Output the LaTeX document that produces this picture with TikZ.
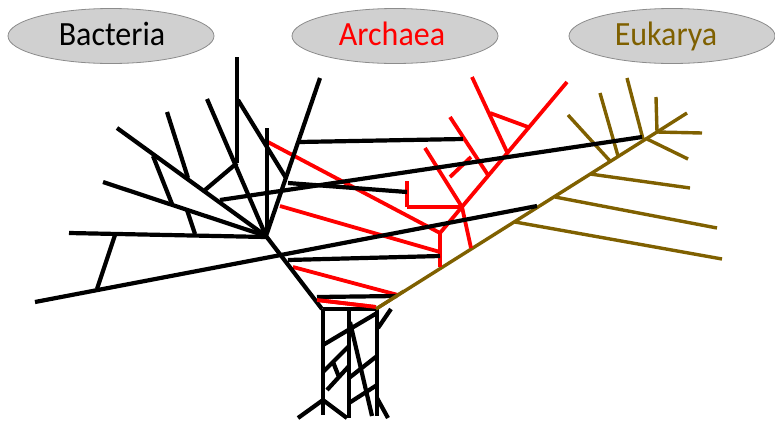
\documentclass[tikz,border=0pt]{standalone}
\usepackage{fontspec}
\setmainfont{Carlito}
\usetikzlibrary{shapes.geometric}
\definecolor{olivebr}{HTML}{7F6000}
\definecolor{bred}{HTML}{FF0000}
\definecolor{blobfill}{HTML}{D0D0D0}
\definecolor{blobline}{HTML}{8C8C8C}
\tikzset{
  blob/.style={ellipse, draw=blobline, line width=0.8pt, fill=blobfill, minimum width=206pt, minimum height=55pt, inner sep=0pt},
  lbl/.style={inner sep=0pt, text height=21pt, text depth=0pt, font=\fontsize{32}{32}\selectfont, yscale=1.06},
  bac/.style={draw=black, line width=4.2pt},
  arc/.style={draw=bred, line width=3.8pt},
  euk/.style={draw=olivebr, line width=3.4pt}
}
\begin{document}
\begin{tikzpicture}[x=1pt,y=-1pt]
\useasboundingbox (0,0) rectangle (775,421);
% labels
\node[blob] (bactE) at (111,36) {};
\node[blob] (archE) at (395,36) {};
\node[blob] (eukE) at (672,36) {};
\node[lbl] (bact) at (112,34) {Bacteria};
\node[lbl, text=bred] (arch) at (392,34) {Archaea};
\node[lbl, text=olivebr] (eukl) at (666,34) {Eukarya};

% ---------- coordinates ----------
\coordinate (H) at (266,236);
% bacteria
\coordinate (b1a) at (237,57);  \coordinate (b1b) at (237,163);
\coordinate (b2b) at (205,190);
\coordinate (b3a) at (238,100); \coordinate (b3b) at (286,178);
\coordinate (b4a) at (320,78);
\coordinate (b5a) at (267,128); \coordinate (b5b) at (267,234);
\coordinate (b6a) at (207,99);
\coordinate (b7a) at (117,128);
\coordinate (b8a) at (167,112); \coordinate (b8b) at (188,178);
\coordinate (b9a) at (153,156); \coordinate (b9b) at (172,204);
\coordinate (b10a) at (103,182);
\coordinate (b11a) at (187,210); \coordinate (b11b) at (195,234);
\coordinate (b12a) at (69,233); \coordinate (b12b) at (266,237);
\coordinate (b13a) at (115,235); \coordinate (b13b) at (97,289);
\coordinate (b14a) at (35,302); \coordinate (b14b) at (537,206);
\coordinate (b15a) at (220,200); \coordinate (b15b) at (642,137);
\coordinate (b16a) at (299,142); \coordinate (b16b) at (463,139);
\coordinate (b17a) at (288,183); \coordinate (b17b) at (407,192);
\coordinate (b18a) at (288,260); \coordinate (b18b) at (440,256);
\coordinate (b19a) at (317,297); \coordinate (b19b) at (397,296);
\coordinate (b20b) at (322,309);
% trunk
\coordinate (Lt) at (323,309); \coordinate (Lb) at (323,415);
\coordinate (Mt) at (349,310); \coordinate (Mb) at (349,418);
\coordinate (Rt) at (377,309); \coordinate (Rb) at (377,416);
\coordinate (t1a) at (323,345); \coordinate (t1b) at (377,313);
\coordinate (t2a) at (323,372); \coordinate (t2b) at (349,346);
\coordinate (t3a) at (350,322); \coordinate (t3b) at (372,416);
\coordinate (t4a) at (333,362); \coordinate (t4b) at (339,377);
\coordinate (t5a) at (327,390); \coordinate (t5b) at (349,366);
\coordinate (t6a) at (349,378); \coordinate (t6b) at (377,356);
\coordinate (t7a) at (323,400); \coordinate (t7b) at (347,418);
\coordinate (t8a) at (349,403); \coordinate (t8b) at (377,385);
\coordinate (t9a) at (298,418);
\coordinate (t10a) at (377,398); \coordinate (t10b) at (388,418);
\coordinate (t11a) at (378,328); \coordinate (t11b) at (391,309);
% archaea
\coordinate (r1a) at (266,141); \coordinate (Y) at (440,233);
\coordinate (r2a) at (280,206); \coordinate (r2b) at (440,252);
\coordinate (r3a) at (293,267); \coordinate (r3b) at (398,295);
\coordinate (r4a) at (317,300); \coordinate (r4b) at (376,307);
\coordinate (r5a) at (567,82);
\coordinate (r6b) at (440,267);
\coordinate (r7a) at (407,181); \coordinate (r7b) at (407,207);
\coordinate (X) at (462,207);
\coordinate (r9a) at (425,148);
\coordinate (r10b) at (471,248);
\coordinate (r11a) at (450,177); \coordinate (r11b) at (471,157);
\coordinate (r12a) at (450,117); \coordinate (r12b) at (488,175);
\coordinate (r13a) at (472,77); \coordinate (r13b) at (507,152);
\coordinate (r14a) at (490,113); \coordinate (r14b) at (528,127);
% eukarya
\coordinate (o1a) at (376,309); \coordinate (E) at (657,132);
\coordinate (o1m) at (404,291);
\coordinate (o2b) at (687,113);
\coordinate (o3b) at (702,133);
\coordinate (o4a) at (647,139); \coordinate (o4b) at (688,159);
\coordinate (o5a) at (656,97);
\coordinate (o6a) at (627,78); \coordinate (o6b) at (643,139);
\coordinate (o7a) at (600,93); \coordinate (o7b) at (618,156);
\coordinate (o8a) at (568,115); \coordinate (o8b) at (610,161);
\coordinate (o9a) at (590,174); \coordinate (o9b) at (690,188);
\coordinate (o10a) at (555,197); \coordinate (o10b) at (717,228);
\coordinate (o11a) at (515,222); \coordinate (o11b) at (722,259);

% ---------- eukarya ----------
\draw[euk] (o1a) -- (E);
\draw[euk] (E) -- (o2b);
\draw[euk] (E) -- (o3b);
\draw[euk] (o4a) -- (o4b);
\draw[euk] (o5a) -- (E);
\draw[euk] (o6a) -- (o6b);
\draw[euk] (o7a) -- (o7b);
\draw[euk] (o8a) -- (o8b);
\draw[euk] (o9a) -- (o9b);
\draw[euk] (o10a) -- (o10b);
\draw[euk] (o11a) -- (o11b);

% ---------- archaea ----------
\draw[arc] (r1a) -- (Y);
\draw[arc] (r5a) -- (Y);
\draw[arc] (Y) -- (r6b);
\draw[arc] (r2a) -- (r2b);
\draw[arc] (r3a) -- (r3b);
\draw[arc] (r4a) -- (r4b);
\draw[arc] (r7a) -- (r7b);
\draw[arc] (r7b) -- (X);
\draw[arc] (r9a) -- (X);
\draw[arc] (X) -- (r10b);
\draw[arc] (r11a) -- (r11b);
\draw[arc] (r12a) -- (r12b);
\draw[arc] (r13a) -- (r13b);
\draw[arc] (r14a) -- (r14b);

% ---------- bacteria ----------
\draw[bac] (b1a) -- (b1b);
\draw[bac] (b1b) -- (b2b);
\draw[bac] (b3a) -- (b3b);
\draw[bac] (b4a) -- (H);
\draw[bac] (b5a) -- (b5b);
\draw[bac] (b6a) -- (H);
\draw[bac] (b7a) -- (H);
\draw[bac] (b8a) -- (b8b);
\draw[bac] (b9a) -- (b9b);
\draw[bac] (b10a) -- (H);
\draw[bac] (b11a) -- (b11b);
\draw[bac] (b12a) -- (b12b);
\draw[bac] (b13a) -- (b13b);
\draw[bac] (b14a) -- (b14b);
\draw[bac] (b15a) -- (b15b);
\draw[bac] (b16a) -- (b16b);
\draw[bac] (b17a) -- (b17b);
\draw[bac] (b18a) -- (b18b);
\draw[bac] (b19a) -- (b19b);
\draw[bac] (H) -- (b20b);
% trunk
\draw[bac] (Lt) -- (Rt);
\draw[bac] (Lt) -- (Lb);
\draw[bac] (Mt) -- (Mb);
\draw[bac] (Rt) -- (Rb);
\draw[bac] (t1a) -- (t1b);
\draw[bac] (t2a) -- (t2b);
\draw[bac] (t3a) -- (t3b);
\draw[bac] (t4a) -- (t4b);
\draw[bac] (t5a) -- (t5b);
\draw[bac] (t6a) -- (t6b);
\draw[bac] (t7a) -- (t7b);
\draw[bac] (t8a) -- (t8b);
\draw[bac] (t9a) -- (t7a);
\draw[bac] (t10a) -- (t10b);
\draw[bac] (t11a) -- (t11b);
% red bottom line and olive base over trunk
\draw[arc] (r4a) -- (r4b);
\draw[euk] (o1a) -- (o1m);
\end{tikzpicture}
\end{document}
